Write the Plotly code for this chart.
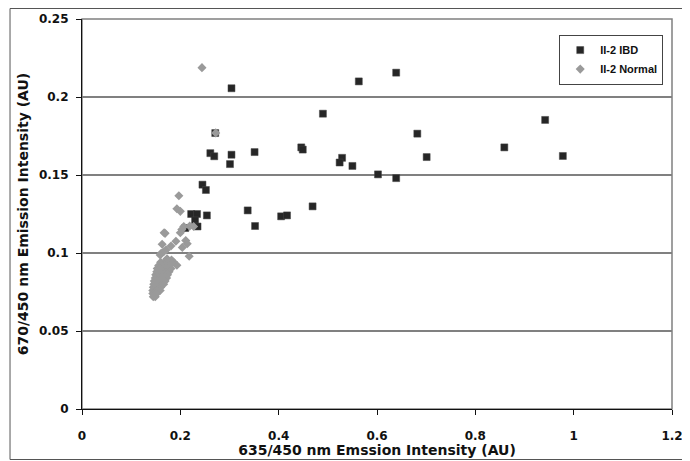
import plotly.graph_objects as go

# II-2 IBD (black squares)
ibd_x = [0.304, 0.563, 0.639, 0.490, 0.271, 0.682, 0.261, 0.269, 0.304, 0.301,
         0.351, 0.446, 0.449, 0.529, 0.524, 0.550, 0.701, 0.602, 0.639, 0.245,
         0.252, 0.337, 0.469, 0.405, 0.417, 0.352, 0.222, 0.234, 0.254, 0.230,
         0.235, 0.210, 0.942, 0.859, 0.978]
ibd_y = [0.2056, 0.2100, 0.2156, 0.1893, 0.1769, 0.1765, 0.1640, 0.1620, 0.1630, 0.1570,
         0.1647, 0.1677, 0.1663, 0.1610, 0.1580, 0.1558, 0.1615, 0.1504, 0.1480, 0.1438,
         0.1404, 0.1273, 0.1299, 0.1235, 0.1241, 0.1173, 0.1250, 0.1250, 0.1241, 0.1209,
         0.1170, 0.1160, 0.1853, 0.1677, 0.1622]

# II-2 Normal (gray diamonds)
normal_x = [0.244, 0.272, 0.197, 0.193, 0.200, 0.227, 0.219, 0.207, 0.203, 0.200,
            0.169, 0.167, 0.211, 0.214, 0.191, 0.204, 0.163, 0.181, 0.171, 0.161,
            0.218, 0.173, 0.182, 0.193, 0.186, 0.166, 0.159,
            0.160, 0.167, 0.175, 0.182,
            0.156, 0.163, 0.170, 0.178,
            0.153, 0.160, 0.167, 0.174, 0.181,
            0.152, 0.158, 0.164, 0.171, 0.177,
            0.150, 0.156, 0.162, 0.168, 0.174,
            0.149, 0.154, 0.160, 0.166, 0.172,
            0.147, 0.152, 0.158, 0.164, 0.169,
            0.146, 0.151, 0.156, 0.162, 0.166,
            0.145, 0.150, 0.155, 0.160,
            0.144, 0.149, 0.154, 0.159,
            0.144, 0.148, 0.152,
            0.145, 0.149]
normal_y = [0.2188, 0.1770, 0.1367, 0.1284, 0.1267, 0.1170, 0.1172, 0.1170, 0.1150, 0.1130,
            0.1126, 0.1130, 0.1080, 0.1060, 0.1075, 0.1036, 0.1056, 0.1045, 0.1020, 0.0998,
            0.0979, 0.0963, 0.0955, 0.0921, 0.0942, 0.1008, 0.0987,
            0.094, 0.094, 0.094, 0.094,
            0.092, 0.092, 0.092, 0.092,
            0.090, 0.090, 0.090, 0.090, 0.090,
            0.088, 0.088, 0.088, 0.088, 0.088,
            0.086, 0.086, 0.086, 0.086, 0.086,
            0.084, 0.084, 0.084, 0.084, 0.084,
            0.082, 0.082, 0.082, 0.082, 0.082,
            0.080, 0.080, 0.080, 0.080, 0.080,
            0.078, 0.078, 0.078, 0.078,
            0.076, 0.076, 0.076, 0.076,
            0.074, 0.074, 0.074,
            0.072, 0.072]

x_ticks = [0, 0.2, 0.4, 0.6, 0.8, 1, 1.2]
x_labels = ["0", "0.2", "0.4", "0.6", "0.8", "1", "1.2"]
y_ticks = [0, 0.05, 0.1, 0.15, 0.2, 0.25]
y_labels = ["0", "0.05", "0.1", "0.15", "0.2", "0.25"]

FONT = "Liberation Sans, Arial, sans-serif"
WIDE = "DejaVu Sans, Verdana, sans-serif"

fig = go.Figure()
fig.add_trace(go.Scatter(
    x=ibd_x, y=ibd_y, mode="markers", name="<b>II-2 IBD</b>",
    marker=dict(symbol="square", size=7, color="#262626",
                line=dict(width=0.5, color="#444444")),
))
fig.add_trace(go.Scatter(
    x=normal_x, y=normal_y, mode="markers", name="<b>II-2 Normal</b>",
    marker=dict(symbol="diamond", size=7, color="#9a9a9a"),
))

fig.update_layout(
    width=680, height=452,
    margin=dict(l=74, r=16, t=11, b=51, autoexpand=False),
    paper_bgcolor="white", plot_bgcolor="white",
    font=dict(family=FONT, size=12, color="#111111"),
    showlegend=True,
    legend=dict(
        x=0.897, y=0.96, xanchor="center", yanchor="top",
        bordercolor="#444444", borderwidth=1, bgcolor="white",
        font=dict(family=FONT, size=11, color="#111111"),
        tracegroupgap=0, itemwidth=30,
    ),
    xaxis=dict(
        range=[0, 1.2], tickvals=x_ticks,
        ticktext=["<b>%s</b>" % v for v in x_labels],
        showgrid=False, zeroline=False, automargin=False,
        showline=True, linecolor="#111111", linewidth=1.2,
        ticks="outside", ticklen=5, tickcolor="#111111",
        ticklabelstandoff=10,
        tickfont=dict(family=WIDE, size=12, color="#111111"),
        title=dict(text="<b>635/450 nm Emssion Intensity (AU)</b>", standoff=1,
                   font=dict(family=WIDE, size=14, color="#111111")),
    ),
    yaxis=dict(
        range=[0, 0.25], tickvals=y_ticks,
        ticktext=["<b>%s</b>" % v for v in y_labels],
        showgrid=True, gridcolor="#808080", gridwidth=1.5, zeroline=False,
        automargin=False,
        showline=True, linecolor="#111111", linewidth=1.2,
        ticks="outside", ticklen=5, tickcolor="#111111",
        ticklabelstandoff=5,
        tickfont=dict(family=WIDE, size=12, color="#111111"),
        title=dict(text="<b>670/450 nm Emission Intensity (AU)</b>", standoff=6,
                   font=dict(family=WIDE, size=14, color="#111111")),
    ),
    shapes=[
        dict(type="rect", xref="paper", yref="paper", x0=0, x1=1, y0=0, y1=1,
             line=dict(color="#808080", width=1.5), layer="below"),
        dict(type="rect", xref="paper", yref="paper",
             x0=-0.122, x1=1.0186, y0=-0.1295, y1=1.0269,
             line=dict(color="#555555", width=1)),
    ],
)

fig.write_html("out.html")
